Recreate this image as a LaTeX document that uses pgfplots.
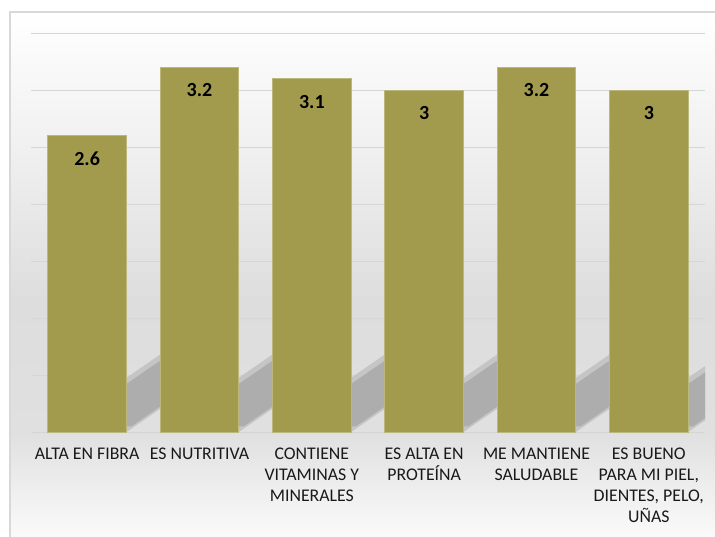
\documentclass[border=0pt]{standalone}
\usepackage{fontspec}
\setmainfont{Carlito}
\usepackage{pgfplots}
\pgfplotsset{compat=1.18}
\definecolor{barc}{RGB}{162,155,77}
\definecolor{bare}{RGB}{188,183,125}
\definecolor{shadout}{RGB}{197,197,197}
\definecolor{shadin}{RGB}{173,173,173}
\definecolor{gridc}{RGB}{214,214,214}
\definecolor{framec}{RGB}{216,216,216}
\definecolor{txt}{RGB}{25,25,25}
\begin{document}
\begin{tikzpicture}
\path[use as bounding box] (0,0) rectangle (715bp,-537bp);
\begin{scope}
\clip (0,0) rectangle (715bp,-537bp);
\shade[top color=white, bottom color={rgb,255:red,240;green,240;blue,240}] (10bp,-12bp) rectangle (720bp,-150bp);
\shade[top color={rgb,255:red,240;green,240;blue,240}, bottom color={rgb,255:red,221;green,221;blue,221}] (10bp,-150bp) rectangle (720bp,-300bp);
\shade[top color={rgb,255:red,221;green,221;blue,221}, bottom color={rgb,255:red,224;green,224;blue,224}] (10bp,-300bp) rectangle (720bp,-432bp);
\shade[top color={rgb,255:red,224;green,224;blue,224}, bottom color={rgb,255:red,252;green,252;blue,252}] (10bp,-432bp) rectangle (720bp,-545bp);
\draw[framec, line width=1.6bp] (10bp,-12bp) rectangle (730bp,-560bp);
\end{scope}
\begin{axis}[
  at={(31bp,-432bp)}, anchor=south west,
  scale only axis, width=674bp, height=399bp,
  xmin=-0.5, xmax=5.5, ymin=0, ymax=3.5,
  axis line style={draw=none},
  ytick={0,0.5,...,3.5}, yticklabels={},
  ymajorgrids, grid style={gridc, line width=1bp},
  major tick length=0pt,
  xtick={0,1,2,3,4,5},
  xticklabels={{ALTA EN FIBRA}, {ES NUTRITIVA}, {CONTIENE\\VITAMINAS Y\\MINERALES}, {ES ALTA EN\\PROTEÍNA}, {ME MANTIENE\\SALUDABLE}, {ES BUENO\\PARA MI PIEL,\\DIENTES, PELO,\\UÑAS}},
  xticklabel style={align=center, text=txt, font=\fontsize{17.8bp}{20.8bp}\selectfont, inner sep=0pt, yshift=-16bp},
  /pgf/number format/assume math mode=true,
]
% perspective shadows (outer soft part)
\addplot[fill=shadout, draw=none] coordinates {(-0.35,0) (0.35,0) (1.35,0.68) (0.65,0.68)} -- cycle;
\addplot[fill=shadout, draw=none] coordinates {(0.65,0) (1.35,0) (2.35,0.68) (1.65,0.68)} -- cycle;
\addplot[fill=shadout, draw=none] coordinates {(1.65,0) (2.35,0) (3.35,0.68) (2.65,0.68)} -- cycle;
\addplot[fill=shadout, draw=none] coordinates {(2.65,0) (3.35,0) (4.35,0.68) (3.65,0.68)} -- cycle;
\addplot[fill=shadout, draw=none] coordinates {(3.65,0) (4.35,0) (5.35,0.68) (4.65,0.68)} -- cycle;
\addplot[fill=shadout, draw=none] coordinates {(4.65,0) (5.35,0) (6.35,0.68) (5.65,0.68)} -- cycle;
% perspective shadows (inner dark part)
\addplot[fill=shadin, draw=none] coordinates {(-0.196,0.05) (0.394,0.05) (1.232,0.62) (0.642,0.62)} -- cycle;
\addplot[fill=shadin, draw=none] coordinates {(0.804,0.05) (1.394,0.05) (2.232,0.62) (1.642,0.62)} -- cycle;
\addplot[fill=shadin, draw=none] coordinates {(1.804,0.05) (2.394,0.05) (3.232,0.62) (2.642,0.62)} -- cycle;
\addplot[fill=shadin, draw=none] coordinates {(2.804,0.05) (3.394,0.05) (4.232,0.62) (3.642,0.62)} -- cycle;
\addplot[fill=shadin, draw=none] coordinates {(3.804,0.05) (4.394,0.05) (5.232,0.62) (4.642,0.62)} -- cycle;
\addplot[fill=shadin, draw=none] coordinates {(4.804,0.05) (5.394,0.05) (6.232,0.62) (5.642,0.62)} -- cycle;
% bars
\addplot[ybar, bar width=0.7, fill=barc, draw=bare, line width=0.8bp,
  nodes near coords,
  nodes near coords style={anchor=north, inner sep=0pt, yshift=-16bp, text=black, font=\fontsize{20bp}{22bp}\selectfont\bfseries}]
  coordinates {(0,2.6) (1,3.2) (2,3.1) (3,3.0) (4,3.2) (5,3.0)};
\end{axis}
\end{tikzpicture}
\end{document}
